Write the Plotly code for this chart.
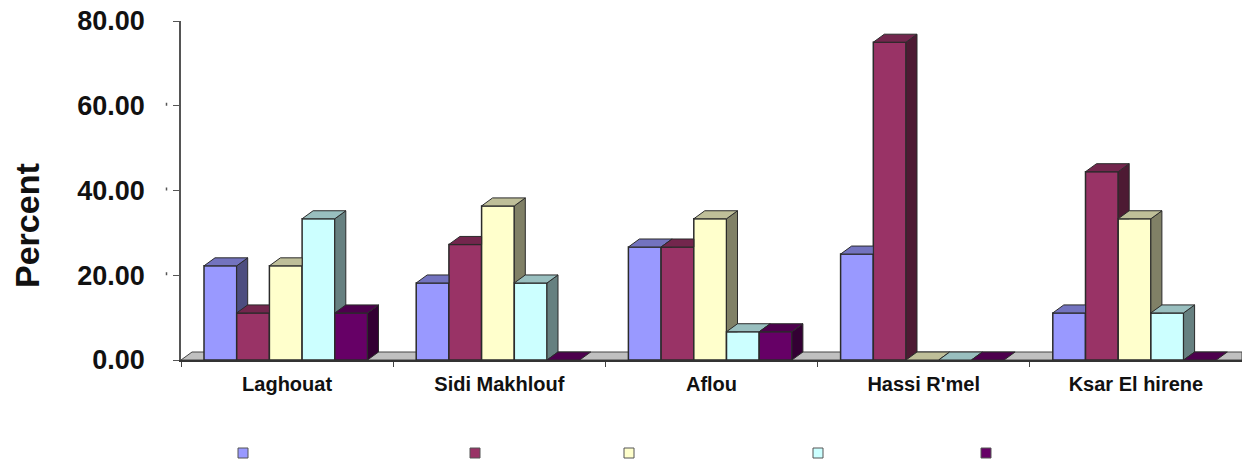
import plotly.graph_objects as go

categories = ["Laghouat", "Sidi Makhlouf", "Aflou", "Hassi R'mel", "Ksar El hirene"]
s1 = [22.22, 18.18, 26.67, 25.0, 11.11]
s2 = [11.11, 27.27, 26.67, 75.0, 44.44]
s3 = [22.22, 36.36, 33.33, 0.0, 33.33]
s4 = [33.33, 18.18, 6.67, 0.0, 11.11]
s5 = [11.11, 0.0, 6.67, 0.0, 0.0]
series = [s1, s2, s3, s4, s5]
front = ["#9999FF", "#993366", "#FFFFCC", "#CCFFFF", "#660066"]
top = ["#7373BF", "#73264D", "#BFBF99", "#99BFBF", "#4D004D"]
side = ["#4D4D80", "#4D1A33", "#808066", "#668080", "#330033"]
y_ticks = [0, 20, 40, 60, 80]
legend_x = [238, 470, 624, 813, 981]

W, H = 1242, 463
L, T, B = 181, 21, 103
PLOT_W, PLOT_H = W - L, H - T - B
PX_X = PLOT_W / 5
PX_Y = PLOT_H / 80
DX = 11 / PX_X
DY = 8 / PX_Y
BW = 32.7 / PX_X
GAP = 23 / PX_X
EDGE = "#2b2b2b"


def clip_above(poly, y0):
    out = []
    for k, p in enumerate(poly):
        q = poly[(k + 1) % len(poly)]
        if p[1] >= y0:
            out.append(p)
        if (p[1] >= y0) != (q[1] >= y0):
            t = (y0 - p[1]) / (q[1] - p[1])
            out.append((p[0] + t * (q[0] - p[0]), y0))
    return out


def top_poly(xl, xr, v, vn):
    if vn is None or vn <= v:
        return [(xl, v), (xr, v), (xr + DX, v + DY), (xl + DX, v + DY)]
    if vn >= v + DY:
        return [(xl, v), (xr, v), (xr, v + DY), (xl + DX, v + DY)]
    f = (vn - v) / DY
    return [(xl, v), (xr, v), (xr, vn), (xr + f * DX, vn), (xr + DX, v + DY), (xl + DX, v + DY)]


def add_poly(xs, ys, poly):
    if poly:
        closed = poly + [poly[0]]
        xs.extend(p[0] for p in closed)
        ys.extend(p[1] for p in closed)
        xs.append(None)
        ys.append(None)


fig = go.Figure()
xc = list(range(len(categories)))
for j, vals in enumerate(series):
    fig.add_trace(go.Bar(
        x=[i - 0.5 + GAP + BW * (j + 0.5) for i in xc], y=vals, width=BW,
        marker=dict(color=front[j], line=dict(color=EDGE, width=1.5)), showlegend=False,
    ))

for j, vals in enumerate(series):
    tx, ty, sx, sy = [], [], [], []
    for i, v in enumerate(vals):
        xl = i - 0.5 + GAP + BW * j
        xr = xl + BW
        vn = series[j + 1][i] if j + 1 < len(series) else None
        add_poly(tx, ty, top_poly(xl, xr, v, vn))
        if v > 0:
            s = [(xr, 0), (xr + DX, DY), (xr + DX, v + DY), (xr, v)]
            if vn is not None:
                s = clip_above(s, vn)
            add_poly(sx, sy, s)
    fig.add_trace(go.Scatter(x=sx, y=sy, mode="lines", fill="toself", fillcolor=side[j],
                             line=dict(color=EDGE, width=1), showlegend=False, hoverinfo="skip"))
    fig.add_trace(go.Scatter(x=tx, y=ty, mode="lines", fill="toself", fillcolor=top[j],
                             line=dict(color=EDGE, width=1), showlegend=False, hoverinfo="skip"))

shapes = [dict(type="path", layer="below",
               path=f"M -0.5 0 L {-0.5 + DX} {DY} L 4.5 {DY} L 4.5 0 Z",
               fillcolor="#C0C0C0", line=dict(color="#444444", width=1))]
for v in y_ticks:
    y0 = v - (4 / PX_Y if v == 0 else 0)
    shapes.append(dict(type="line", xref="paper", yref="y", x0=-14.5 / PLOT_W, x1=-14.5 / PLOT_W,
                       y0=y0, y1=y0 + 3 / PX_Y, line=dict(color="#555555", width=1.5)))
for c, x in zip(front, legend_x):
    shapes.append(dict(type="rect", xref="paper", yref="paper",
                       x0=(x - L) / PLOT_W, x1=(x + 10 - L) / PLOT_W,
                       y0=-(453 + 5 - (H - B)) / PLOT_H, y1=-(453 - 5 - (H - B)) / PLOT_H,
                       fillcolor=c, line=dict(color="#555555", width=1)))

fig.update_layout(
    width=W, height=H, margin=dict(l=L, r=0, t=T, b=B, pad=0, autoexpand=False),
    paper_bgcolor="white", plot_bgcolor="white", barmode="overlay", shapes=shapes,
    font=dict(family="Liberation Sans", color="#111111"),
    annotations=[dict(text="Percent", textangle=-90, showarrow=False, xref="paper", yref="paper",
                      x=(27 - L) / PLOT_W, y=(H - B - 226) / PLOT_H, xanchor="center", yanchor="middle",
                      font=dict(size=34, family="Liberation Sans", weight="bold", color="#111111"))],
    xaxis=dict(range=[-0.5, 4.5], tickmode="array", tickvals=xc, ticktext=categories,
               tickfont=dict(size=20, family="Liberation Sans", weight="bold"), ticks="", showgrid=False,
               zeroline=False, showline=True, linecolor="#333333", linewidth=1.5, ticklabelstandoff=5,
               minor=dict(tickmode="array", tickvals=[i - 0.5 for i in range(6)], ticks="outside",
                          ticklen=5, tickcolor="#444444", tickwidth=1.2, showgrid=False)),
    yaxis=dict(range=[0, 80], tickmode="array", tickvals=y_ticks, ticktext=[f"{v:.2f}" for v in y_ticks],
               tickfont=dict(size=27, family="Liberation Sans", weight="bold"), ticks="outside", ticklen=6,
               tickcolor="#555555", tickwidth=1.2, showgrid=False, zeroline=False, showline=True,
               linecolor="#555555", linewidth=1.5, ticklabelstandoff=23),
)
fig.write_html("out.html", config=dict(displayModeBar=False),
               post_script="document.body.style.margin='0';document.documentElement.style.overflow='hidden';")
